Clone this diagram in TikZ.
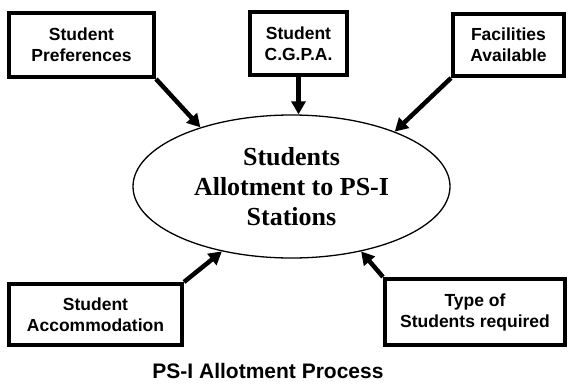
\documentclass[tikz,border=0pt]{standalone}
\usepackage{fontspec}
\setmainfont{Liberation Serif}
\newfontfamily\boxfont{Liberation Sans}
\usetikzlibrary{shapes.geometric,arrows.meta}
\tikzset{
  inbox/.style={draw, line width=4pt, inner sep=0pt, align=center,
    font=\boxfont\bfseries\fontsize{17.5}{21}\selectfont},
  feed/.style={line width=4.5pt, -{Triangle[length=13pt,width=14pt]}, shorten >=0pt},
  centre/.style={draw, ellipse, line width=1.3pt, inner sep=0pt, align=center,
    minimum width=317pt, minimum height=143pt,
    font=\bfseries\fontsize{26}{30}\selectfont}
}
\begin{document}
\begin{tikzpicture}[x=1pt,y=-1pt]
\useasboundingbox (0,0) rectangle (568,386);
\node[inbox, minimum width=145pt, minimum height=64pt] (b1) at (81.5,45) {Student\\Preferences};
\node[inbox, minimum width=97pt, minimum height=63pt] (b2) at (298.5,43.5) {Student\\C.G.P.A.};
\node[inbox, minimum width=111pt, minimum height=62pt] (b3) at (508.5,45) {Facilities\\Available};
\node[inbox, minimum width=173pt, minimum height=61pt] (b4) at (95.5,314.5) {Student\\Accommodation};
\node[inbox, minimum width=180pt, minimum height=66pt] (b5) at (475,312) {Type of\\Students required};
\node[centre] (E) at (291.5,186.5) {Students\\Allotment to PS-I\\Stations};
\node[anchor=base, font=\boxfont\bfseries\fontsize{21}{25}\selectfont] (cap) at (268,378) {PS-I Allotment Process};
\draw[feed] (b1.south east) -- (E.147.7);
\draw[feed] (b2.south) -- (b2.south |- E.north);
\draw[feed] (b3.south west) -- (E.28.8);
\draw[feed] (b4.north east) -- (E.223.3);
\draw[feed] (b5.north west) -- (E.317);
\end{tikzpicture}
\end{document}
